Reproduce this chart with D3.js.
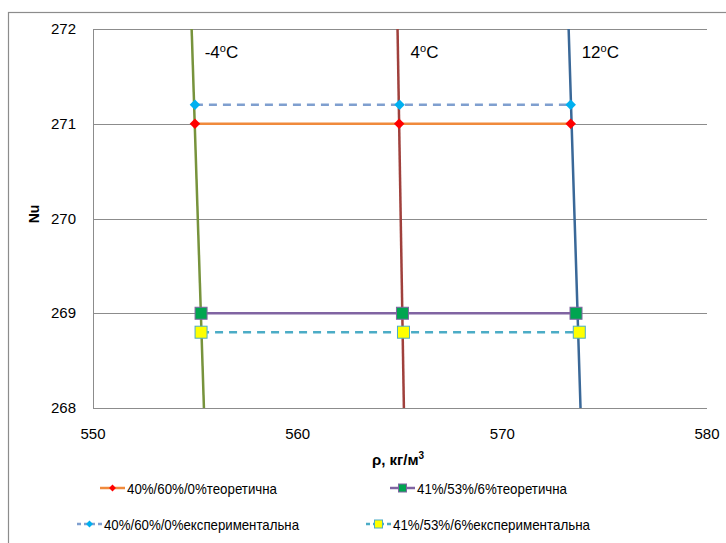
<!DOCTYPE html>
<html>
<head>
<meta charset="utf-8">
<script src="https://cdn.jsdelivr.net/npm/d3@7"></script>
<style>
  body { margin: 0; background: #fff; }
  svg { font-family: "Liberation Sans", Arial, sans-serif; }
</style>
</head>
<body>
<svg id="chart" width="726" height="543"></svg>
<script>
// isotherm lines (rho at Nu = 272 and Nu = 268)
const isoLabels = ["-4", "4", "12"];
const isoTop = [554.82, 564.88, 573.24];
const isoBottom = [555.42, 565.19, 573.82];
const isoColors = ["#77933c", "#a0403c", "#3a6898"];

// series
const seriesNames = ["40%/60%/0%теоретична", "41%/53%/6%теоретична", "40%/60%/0%експериментальна", "41%/53%/6%експериментальна"];
const theo1Rho = [554.98, 564.96, 573.34];
const theo1Nu = [271, 271, 271];
const exp1Rho = [554.98, 564.98, 573.34];
const exp1Nu = [271.2, 271.2, 271.2];
const theo2Rho = [555.28, 565.12, 573.6];
const theo2Nu = [269, 269, 269];
const exp2Rho = [555.28, 565.17, 573.76];
const exp2Nu = [268.8, 268.8, 268.8];

const xTicks = [550, 560, 570, 580];
const yTicks = [268, 269, 270, 271, 272];

const svg = d3.select("#chart");
const x = d3.scaleLinear().domain([550, 580]).range([93, 707]);
const y = d3.scaleLinear().domain([268, 272]).range([408, 29]);

// outer chart border
svg.append("rect")
  .attr("x", 8.5).attr("y", 12.5)
  .attr("width", 800).attr("height", 600)
  .attr("fill", "none").attr("stroke", "#8c8c8c").attr("stroke-width", 1.2);

// gridlines
svg.append("g").selectAll("line")
  .data(yTicks)
  .join("line")
  .attr("x1", x(550)).attr("x2", x(580))
  .attr("y1", d => Math.round(y(d)) + 0.5).attr("y2", d => Math.round(y(d)) + 0.5)
  .attr("stroke", "#8c8c8c").attr("stroke-width", 1);
svg.append("line")
  .attr("x1", x(550) + 0.5).attr("x2", x(550) + 0.5)
  .attr("y1", y(272)).attr("y2", y(268))
  .attr("stroke", "#8c8c8c");

// tick labels
svg.append("g").selectAll("text")
  .data(yTicks)
  .join("text")
  .attr("x", 76).attr("y", d => y(d) + 5)
  .attr("text-anchor", "end")
  .attr("font-size", 15).attr("fill", "#000")
  .text(d => d);
svg.append("g").selectAll("text")
  .data(xTicks)
  .join("text")
  .attr("x", d => x(d)).attr("y", 439)
  .attr("text-anchor", "middle")
  .attr("font-size", 15).attr("fill", "#000")
  .text(d => d);

// axis titles
const xt = svg.append("text")
  .attr("x", 398).attr("y", 465)
  .attr("text-anchor", "middle")
  .attr("font-size", 15).attr("font-weight", "bold");
xt.append("tspan").text("ρ, кг/м");
xt.append("tspan").attr("dy", -6).attr("font-size", 10).text("3");

svg.append("text")
  .attr("transform", "translate(39," + 214 + ") rotate(-90)")
  .attr("text-anchor", "middle")
  .attr("font-size", 14).attr("font-weight", "bold")
  .text("Nu");

// isotherms
const iso = svg.append("g");
isoLabels.forEach((lab, i) => {
  iso.append("line")
    .attr("x1", x(isoTop[i])).attr("y1", y(272))
    .attr("x2", x(isoBottom[i])).attr("y2", y(268))
    .attr("stroke", isoColors[i]).attr("stroke-width", 2.5);
  const t = iso.append("text")
    .attr("x", x(isoTop[i]) + 13).attr("y", 58)
    .attr("font-size", 17).attr("fill", "#000");
  t.append("tspan").text(lab);
  t.append("tspan").attr("dy", -6).attr("font-size", 11).text("o");
  t.append("tspan").attr("dy", 6).text("C");
});

const line = d3.line().x(d => x(d[0])).y(d => y(d[1]));
const zip = (a, b) => a.map((v, i) => [v, b[i]]);

function drawSeries(rho, nu, stroke, dash, marker, fill, mstroke) {
  const pts = zip(rho, nu);
  svg.append("path")
    .attr("d", line(pts))
    .attr("fill", "none").attr("stroke", stroke).attr("stroke-width", 2.5)
    .attr("stroke-dasharray", dash);
  const g = svg.append("g");
  pts.forEach(p => {
    if (marker === "diamond") {
      g.append("path")
        .attr("d", d3.symbol(d3.symbolDiamond2, 70)())
        .attr("transform", "translate(" + x(p[0]) + "," + y(p[1]) + ")")
        .attr("fill", fill);
    } else {
      g.append("rect")
        .attr("x", x(p[0]) - 6).attr("y", y(p[1]) - 6)
        .attr("width", 12).attr("height", 12)
        .attr("fill", fill).attr("stroke", mstroke).attr("stroke-width", 1);
    }
  });
}

drawSeries(exp1Rho, exp1Nu, "#7f9fcf", "8,6", "diamond", "#00b0f0");
drawSeries(theo1Rho, theo1Nu, "#f08a3c", null, "diamond", "#ff0000");
drawSeries(theo2Rho, theo2Nu, "#8064a2", null, "square", "#00a550", "#8064a2");
drawSeries(exp2Rho, exp2Nu, "#4bacc6", "8,6", "square", "#ffff00", "#4bacc6");

// legend
const legendItems = [
  { name: seriesNames[0], x: 100, y: 488, w: 150, stroke: "#f08a3c", dash: null, marker: "diamond", fill: "#ff0000" },
  { name: seriesNames[1], x: 390, y: 488, w: 150, stroke: "#8064a2", dash: null, marker: "square", fill: "#00a550", ms: "#8064a2" },
  { name: seriesNames[2], x: 77, y: 524, w: 195, stroke: "#7f9fcf", dash: "4,3", marker: "diamond", fill: "#00b0f0" },
  { name: seriesNames[3], x: 366, y: 524, w: 197, stroke: "#4bacc6", dash: "4,3", marker: "square", fill: "#ffff00", ms: "#4bacc6" }
];
const lg = svg.append("g").selectAll("g").data(legendItems).join("g")
  .attr("transform", d => "translate(" + d.x + "," + d.y + ")");
lg.append("line")
  .attr("x1", 0).attr("x2", 25)
  .attr("stroke", d => d.stroke).attr("stroke-width", 2.5)
  .attr("stroke-dasharray", d => d.dash);
lg.each(function (d) {
  const g = d3.select(this);
  if (d.marker === "diamond") {
    g.append("path").attr("d", d3.symbol(d3.symbolDiamond2, 30)())
      .attr("transform", "translate(12.5,0)").attr("fill", d.fill);
  } else {
    g.append("rect").attr("x", 8.5).attr("y", -4).attr("width", 8).attr("height", 8)
      .attr("fill", d.fill).attr("stroke", d.ms).attr("stroke-width", 1);
  }
});
lg.append("text")
  .attr("x", 27).attr("y", 5.5)
  .attr("font-size", 15).attr("fill", "#000")
  .attr("textLength", d => d.w)
  .attr("lengthAdjust", "spacingAndGlyphs")
  .text(d => d.name);
</script>
</body>
</html>
